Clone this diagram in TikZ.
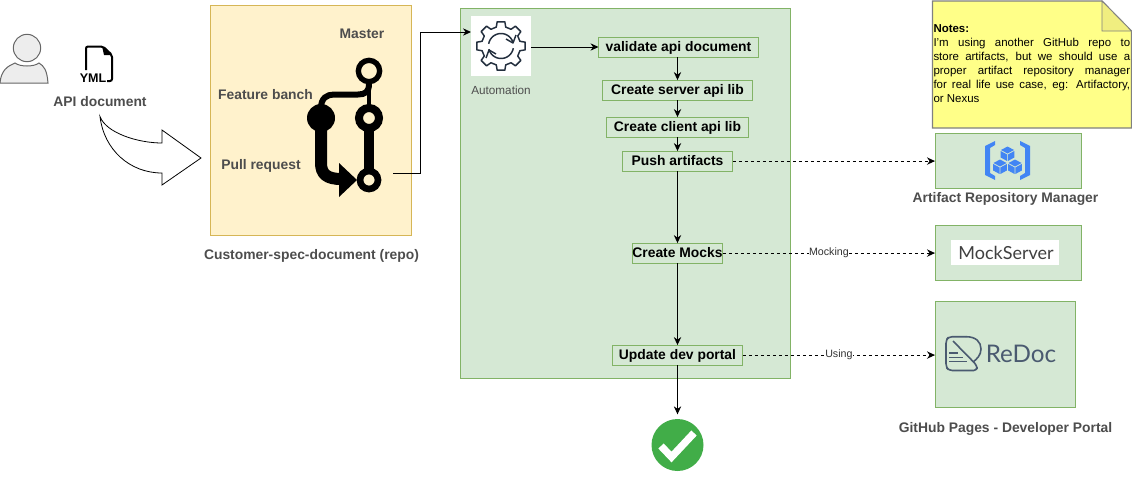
\documentclass[tikz,border=0pt]{standalone}
\usepackage{fontspec}
\setmainfont{Liberation Sans}
\newfontfamily\logofont{Lato}
\usetikzlibrary{positioning, arrows.meta}

\definecolor{greenfill}{HTML}{D5E8D4}
\definecolor{greenline}{HTML}{82B366}
\definecolor{yellowfill}{HTML}{FFF2CC}
\definecolor{yellowline}{HTML}{D6B656}
\definecolor{labelgray}{HTML}{4D4D4D}
\definecolor{gearcolor}{HTML}{232F3E}
\definecolor{repoblue}{HTML}{4285F4}
\definecolor{redoccolor}{HTML}{4A5A70}
\definecolor{checkgreen}{HTML}{41AD48}
\definecolor{notefill}{HTML}{FFFF88}
\definecolor{notefold}{HTML}{F0EE80}

\begin{document}
\begin{tikzpicture}[
        x=0.75pt, y=-0.75pt,
        >={Stealth[length=6pt, width=5.5pt]},
        every node/.style={inner sep=0pt, outer sep=0pt},
        boldtext/.style={font=\fontsize{10.4}{12}\selectfont\bfseries, text=labelgray},
        stepbox/.style={draw=greenline, fill=greenfill, line width=0.75pt, minimum height=15pt, align=center, text height=8.5pt, text depth=1.5pt, font=\fontsize{10.4}{12}\selectfont\bfseries},
        toolbox/.style={draw=greenline, fill=greenfill, line width=0.75pt, minimum width=109.5pt},
        flow/.style={->, line width=0.75pt},
        dashedflow/.style={->, line width=0.75pt, dash pattern=on 2.25pt off 2.25pt},
        edgelabel/.style={fill=white, font=\fontsize{8}{9}\selectfont, text=black!80}
    ]
    \useasboundingbox (0,0) rectangle (1132,486);

    % containers
    \node[draw=yellowline, fill=yellowfill, line width=0.75pt, minimum width=150.75pt, minimum height=172.5pt] (repo) at (310.5,120) {};
    \node[draw=greenline, fill=greenfill, line width=0.75pt, minimum width=247.5pt, minimum height=277pt] (pipeline) at (625,193.4) {};

    % user
    \draw[draw=black!60, fill=black!7, line width=0.75pt] (0,83) .. controls (1,70) and (8,66) .. (15,63) .. controls (20,67) and (34,67) .. (39,63) .. controls (44,66) and (47,70) .. (48,83) -- cycle;
    \node[circle, draw=black!60, fill=black!7, line width=0.75pt, minimum size=20.5pt] (head) at (27,48) {};

    % yml file
    \draw[line width=1.5pt, rounded corners=1.5pt] (86,70) -- (86,46.5) -- (103,46.5) -- (112,55) -- (112,81) -- (107,81);
    \fill (102,46) -- (112,55) -- (104,55) -- cycle;
    \node[font=\fontsize{9.4}{11}\selectfont\bfseries] (yml) at (93,78) {YML};
    \node[boldtext] (apidoc) at (100,102) {API document};

    % big arrow
    \draw[line width=0.6pt, fill=white] (100,116.5) .. controls (106,133) and (138,143) .. (162,143) -- (162,130) -- (201,158) -- (162,185) -- (162,173) .. controls (130,173) and (104,150) .. (100,116.5) -- cycle;

    % git graph
    \draw[line width=9pt] (321,128) -- (321,163) .. controls (321,174) and (327,179) .. (341,179);
    \fill (339,163) -- (357,180) -- (339,197) -- cycle;
    \draw[line width=4.5pt] (321,108) .. controls (321,98) and (327,94.5) .. (334,94.5) -- (358,94.5) .. controls (365,94.5) and (369,92) .. (369,84);
    \draw[line width=3pt] (369,84) -- (369,106);
    \draw[line width=8pt] (369,130) -- (369,170);
    \node[circle, fill=black, minimum size=21pt] (featuredot) at (321,118) {};
    \node[circle, draw=black, fill=yellowfill, line width=4pt, minimum size=16pt] (masterdot) at (369,71) {};
    \node[circle, draw=black, fill=yellowfill, line width=6pt, minimum size=15pt] (middledot) at (369,118) {};
    \node[circle, draw=black, fill=yellowfill, line width=5pt, minimum size=13.5pt] (pulldot) at (369,180) {};
    \coordinate (repoout) at (393,173);

    \node[boldtext] (master) at (362,33.5) {Master};
    \node[boldtext] (feature) at (265.5,94.5) {Feature banch};
    \node[boldtext] (pull) at (261,165.5) {Pull request};
    \node[boldtext] (repolabel) at (311.5,255.5) {Customer-spec-document (repo)};

    % automation
    \node[fill=white, minimum size=45pt] (auto) at (501,46) {};
    \node[font=\fontsize{8.8}{10}\selectfont, text=labelgray] (autolabel) at (501,90) {Automation};
    \draw[gearcolor, line width=1.1pt, line join=round, shift={(501,46)}] (-14:19.5)
        \foreach \a in {0,45,...,315} { -- (\a-14:19.5) -- (\a-9:24.5) -- (\a+9:24.5) -- (\a+14:19.5) } -- cycle;
    \draw[gearcolor, line width=1.1pt, shift={(501,46)}] plot[domain=190:345, samples=20] (\x:12.5);
    \draw[gearcolor, line width=1.1pt, shift={(501,46)}] plot[domain=10:165, samples=20] (\x:12.5);
    \draw[gearcolor, line width=1.1pt, line join=round, shift={(501,46)}] (5,-7) -- (12,-3) -- (15,-11);
    \draw[gearcolor, line width=1.1pt, line join=round, shift={(501,46)}] (-5,8) -- (-12,4) -- (-15,12);

    % steps
    \node[stepbox, minimum width=120pt] (validate) at (678.5,47) {validate api document};
    \node[stepbox, minimum width=113pt, below=17.3pt of validate.south, anchor=north, xshift=-0.75pt] (server) {Create server api lib};
    \node[stepbox, minimum width=106pt, below=12.75pt of server] (client) {Create client api lib};
    \node[stepbox, minimum width=83pt, below=10.5pt of client] (push) {Push artifacts};
    \node[stepbox, minimum width=68pt, below=54pt of push] (mocks) {Create Mocks};
    \node[stepbox, minimum width=98pt, below=61.5pt of mocks] (update) {Update dev portal};

    % done
    \node[circle, fill=checkgreen, minimum size=39pt] (done) at (677.5,445) {};
    \draw[white, line width=5.5pt] (661,446) -- (671.5,457) -- (694,433);

    % tools
    \node[toolbox, minimum height=41.25pt] (artifact) at (1008,160.5) {};
    \node[toolbox, minimum height=41.25pt] (mockbox) at (1008,252.5) {};
    \node[toolbox, minimum width=105.4pt, minimum height=79.5pt, anchor=west] (redoc) at (935,354) {};
    \node[boldtext] (artifactlabel) at (1005.5,198.5) {Artifact Repository Manager};
    \node[boldtext] (redoclabel) at (1005.5,428.5) {GitHub Pages - Developer Portal};

    % artifact logo
    \fill[repoblue] (995,141) -- (985,146) -- (985,175) -- (995,180) -- (995,176) -- (990,173) -- (990,148) -- (995,145) -- cycle;
    \fill[repoblue] (1020,141) -- (1030,146) -- (1030,175) -- (1020,180) -- (1020,176) -- (1025,173) -- (1025,148) -- (1020,145) -- cycle;
    \foreach \cx/\cy in {1007.5/153, 1000/166, 1015/166} {
        \fill[repoblue] (\cx,\cy-6.5) -- (\cx+6.5,\cy-3) -- (\cx,\cy+0.5) -- (\cx-6.5,\cy-3) -- cycle;
        \fill[repoblue] (\cx-6.8,\cy-2) -- (\cx-0.4,\cy+1.5) -- (\cx-0.4,\cy+8) -- (\cx-6.8,\cy+4.5) -- cycle;
        \fill[repoblue] (\cx+6.8,\cy-2) -- (\cx+0.4,\cy+1.5) -- (\cx+0.4,\cy+8) -- (\cx+6.8,\cy+4.5) -- cycle;
    }

    % mockserver logo
    \node[fill=white, minimum width=81pt, minimum height=18.75pt] (mocklogo) at (1005,252.5) {};
    \node[font=\logofont\fontsize{13.5}{15}\selectfont, text=black!75] (mocktext) at (1006,253) {MockServer};

    % redoc logo
    \draw[redoccolor, line width=1.2pt, rounded corners=2.5pt, line join=round] (953,341) -- (977,365.5) -- (977,370.5) -- (949,370.5) -- (946,367) -- (946,340) -- (949,336.7) -- (966,336.7);
    \draw[redoccolor, line width=1.2pt] (966,336.7) .. controls (976,336.7) and (981,342) .. (981,349) .. controls (981,355) and (977,359) .. (973,362);
    \draw[redoccolor, line width=1.1pt] (949,353) -- (958,353) (949,357.5) -- (963,357.5) (949,361.5) -- (967,361.5);
    \node[font=\logofont\fontsize{18.2}{20}\selectfont, text=redoccolor] (redoctext) at (1021,354) {ReDoc};

    % notes
    \draw[draw=black!50, fill=notefill, line width=0.9pt] (932.5,1) -- (1102,1) -- (1131.5,31) -- (1131.5,128) -- (932.5,128) -- cycle;
    \draw[draw=black!50, fill=notefold, line width=0.6pt] (1102,1) -- (1102,31) -- (1131.5,31) -- cycle;
    \node[anchor=north west, text width=147.5pt, align=justify, font=\fontsize{8.6}{10.5}\selectfont] (notes) at (933.5,25) {\textbf{Notes:}\\I'm using another GitHub repo to\linebreak store artifacts, but we should use a\linebreak proper artifact repository manager\linebreak for real life use case, eg: Artifactory,\linebreak or Nexus};

    % connectors
    \draw[->, line width=0.75pt] (repoout) -- (420,173) -- (420,32) -- (auto.west |- 0,32);
    \draw[flow] (auto.east |- validate) -- (validate.west);
    \draw[flow] (validate.south -| server) -- (server.north);
    \draw[flow] (server) -- (client);
    \draw[flow] (client) -- (push);
    \draw[flow] (push) -- (mocks);
    \draw[flow] (mocks) -- (update);
    \draw[flow, shorten >=3.5pt] (update) -- (done);
    \draw[dashedflow] (push) -- (artifact.west |- push);
    \draw[dashedflow] (mocks) -- node[edgelabel, pos=0.5] (mockinglabel) {Mocking} (mockbox.west |- mocks);
    \draw[dashedflow] (update) -- node[edgelabel, pos=0.5] (usinglabel) {Using} (redoc.west |- update);
\end{tikzpicture}
\end{document}
